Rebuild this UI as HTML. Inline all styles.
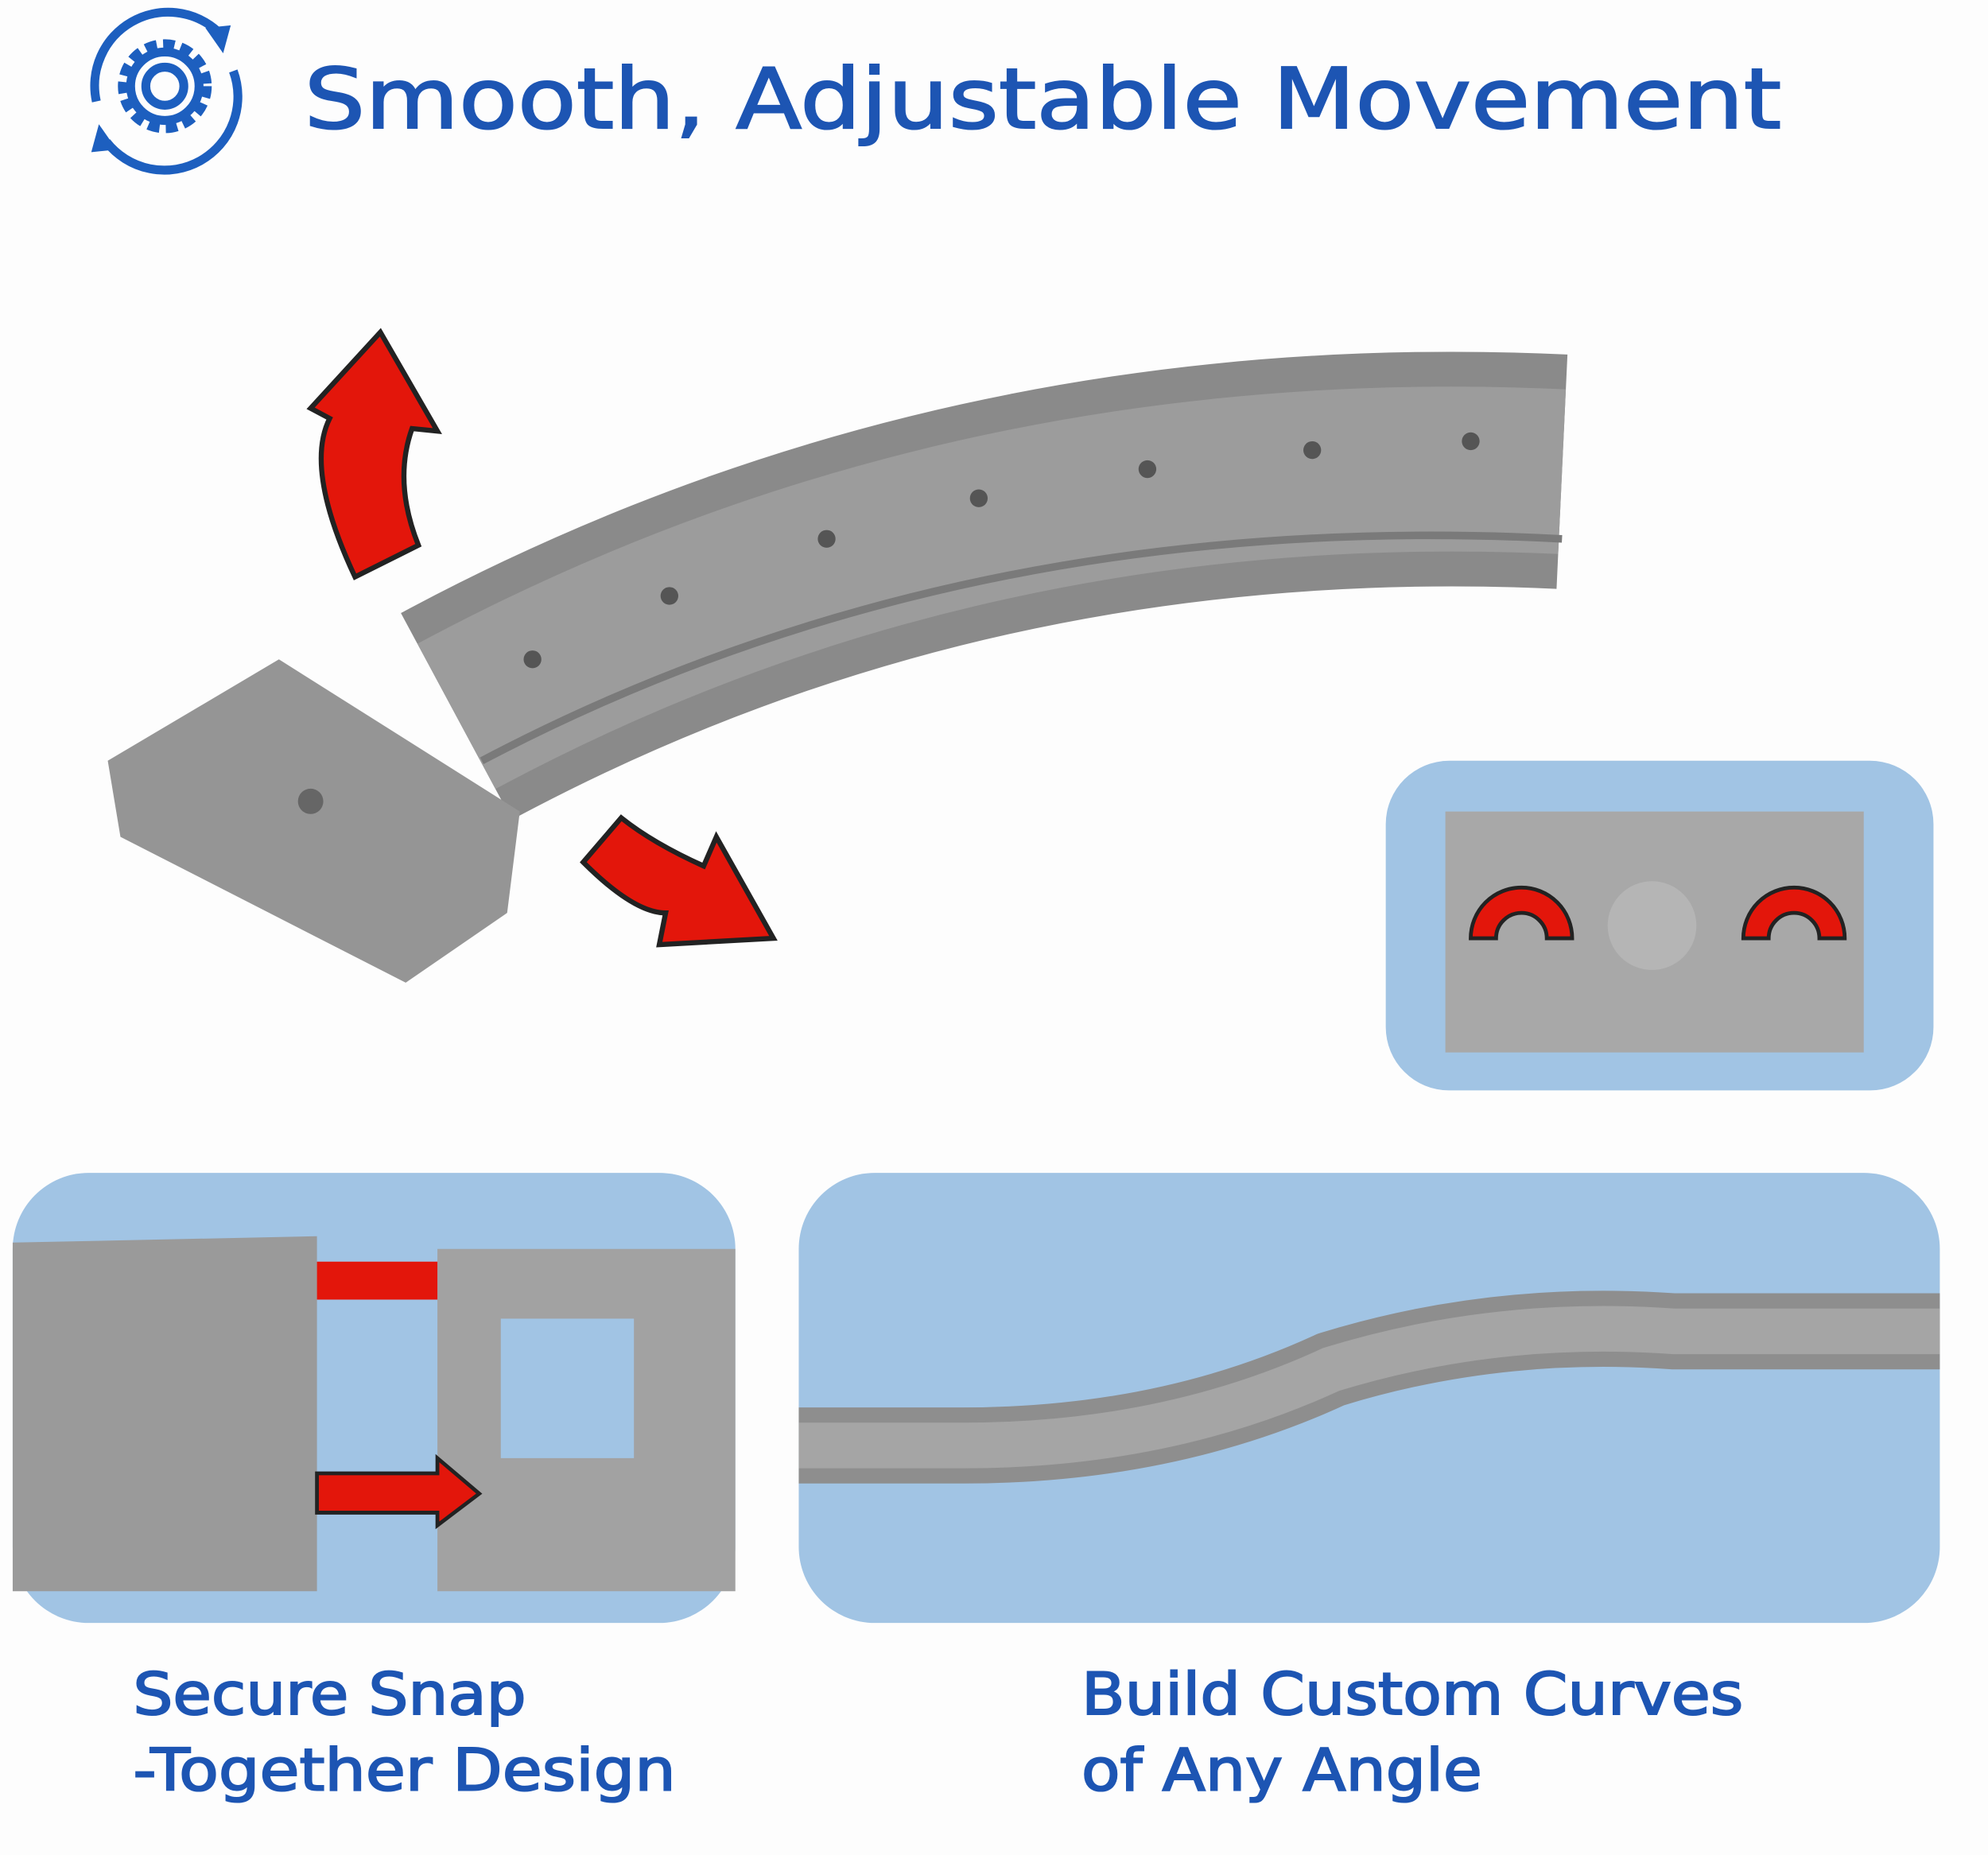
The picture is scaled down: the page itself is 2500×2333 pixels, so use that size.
<!DOCTYPE html>
<html><head><meta charset="utf-8"><style>
html,body{margin:0;padding:0;background:#fdfdfd;}
svg{display:block;}
text{font-family:"DejaVu Sans","Liberation Sans",sans-serif;fill:#1d55b3;stroke:#1d55b3;stroke-width:1.3;}
</style></head><body>
<svg width="2500" height="2333" viewBox="0 0 1568 1463" preserveAspectRatio="none" xmlns="http://www.w3.org/2000/svg">
<rect width="1568" height="1463" fill="#fdfdfd"/>
<!-- gear icon -->
<g fill="none" stroke="#1d5fbf" stroke-width="7">
<circle cx="130" cy="68" r="15"/>
<circle cx="130" cy="68" r="33" stroke-width="8" stroke-dasharray="9 5"/>
<circle cx="130" cy="68" r="27"/>
<path d="M76 80 A58 58 0 0 1 172 25"/>
<path d="M184 56 A58 58 0 0 1 84 112"/>
</g>
<path d="M162 22 L182 20 L176 42 Z" fill="#1d5fbf"/>
<path d="M92 118 L72 120 L78 98 Z" fill="#1d5fbf"/>
<text x="240" y="101" font-size="66" textLength="1165" lengthAdjust="spacingAndGlyphs">Smooth, Adjustable Movement</text>
<!-- curved track -->
<path d="M360 565 Q760 350 1232 372" fill="none" stroke="#8a8a8a" stroke-width="185"/>
<path d="M360 565 Q760 350 1232 372" fill="none" stroke="#9c9c9c" stroke-width="130"/>
<path d="M380 600 Q760 400 1232 425" fill="none" stroke="#7a7a7a" stroke-width="6"/>
<g fill="#555"><circle cx="420" cy="520" r="7"/><circle cx="528" cy="470" r="7"/><circle cx="652" cy="425" r="7"/><circle cx="772" cy="393" r="7"/><circle cx="905" cy="370" r="7"/><circle cx="1035" cy="355" r="7"/><circle cx="1160" cy="348" r="7"/></g>
<!-- small piece -->
<path d="M85 600 L220 520 L410 640 L400 720 L320 775 L95 660 Z" fill="#959595"/>
<circle cx="245" cy="632" r="10" fill="#666"/>
<!-- red arrows -->
<path d="M280 455 Q240 370 260 330 L245 322 L300 262 L345 340 L325 338 Q310 380 330 430 Z" fill="#e3160b" stroke="#222" stroke-width="4"/>
<path d="M460 680 Q500 720 525 720 L520 745 L610 740 L565 660 L555 683 Q515 665 490 645 Z" fill="#e3160b" stroke="#222" stroke-width="4"/>
<!-- inset panel -->
<rect x="1093" y="600" width="432" height="260" rx="50" fill="#a1c4e4"/>
<path d="M1140 640 L1470 640 L1470 830 L1140 830 Z" fill="#a8a8a8"/>
<circle cx="1303" cy="730" r="35" fill="#b5b5b5"/>
<path d="M1160 740 A40 40 0 0 1 1240 740 L1220 740 A20 20 0 0 0 1180 740 Z" fill="#e3160b" stroke="#222" stroke-width="3"/>
<path d="M1375 740 A40 40 0 0 1 1455 740 L1435 740 A20 20 0 0 0 1395 740 Z" fill="#e3160b" stroke="#222" stroke-width="3"/>
<!-- bottom left panel -->
<rect x="10" y="925" width="570" height="355" rx="60" fill="#a1c4e4"/>
<path d="M10 980 L250 975 L250 1255 L10 1255 Z" fill="#9a9a9a"/>
<path d="M345 985 L580 985 L580 1255 L345 1255 Z" fill="#a2a2a2"/>
<rect x="395" y="1040" width="105" height="110" fill="#a1c4e4"/>
<path d="M250 995 L345 995 L345 1025 L250 1025 Z" fill="#e3160b"/>
<path d="M250 1162 L345 1162 L345 1150 L378 1178 L345 1203 L345 1193 L250 1193 Z" fill="#e3160b" stroke="#222" stroke-width="3"/>
<!-- bottom right panel -->
<rect x="630" y="925" width="900" height="355" rx="60" fill="#a1c4e4"/>
<path d="M630 1140 L760 1140 Q920 1140 1050 1080 Q1180 1040 1320 1050 L1530 1050" fill="none" stroke="#8e8e8e" stroke-width="60"/>
<path d="M630 1140 L760 1140 Q920 1140 1050 1080 Q1180 1040 1320 1050 L1530 1050" fill="none" stroke="#a5a5a5" stroke-width="36"/>
<!-- captions -->
<text x="105" y="1352" font-size="46" textLength="310" lengthAdjust="spacingAndGlyphs">Secure Snap</text>
<text x="105" y="1412" font-size="46" textLength="428" lengthAdjust="spacingAndGlyphs">-Together Design</text>
<text x="853" y="1352" font-size="46" textLength="522" lengthAdjust="spacingAndGlyphs">Build Custom Curves</text>
<text x="853" y="1412" font-size="46" textLength="316" lengthAdjust="spacingAndGlyphs">of Any Angle</text>
</svg>
</body></html>
